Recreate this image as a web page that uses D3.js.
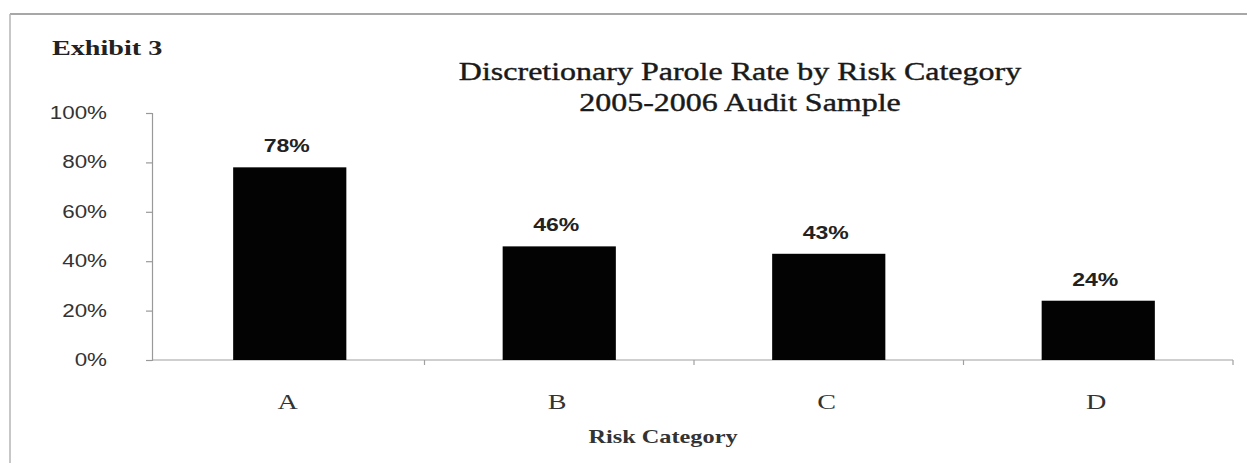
<!DOCTYPE html>
<html>
<head>
<meta charset="utf-8">
<script src="https://cdn.jsdelivr.net/npm/d3@7"></script>
<style>
  body { margin: 0; background: #fff; }
  svg { display: block; }
</style>
</head>
<body>
<div id="chart"></div>
<script>
// chart data
const categories = ["A", "B", "C", "D"];
const rates = [78, 46, 43, 24];
const yTicks = [0, 20, 40, 60, 80, 100];

const W = 1247, H = 463;
const plotLeft = 152, plotRight = 1233, plotTop = 113, plotBottom = 360;
const sx = 1.28; // the scan is stretched sideways, text too

const serif = "Liberation Serif, Times New Roman, serif";
const sans = "Liberation Sans, Arial, sans-serif";

const svg = d3.select("#chart")
    .append("svg")
    .attr("width", W)
    .attr("height", H);

// text helper, stretched horizontally like the scan
function addText(px, py, str, anchor, font, size, weight, fill) {
    return svg.append("text")
        .attr("transform", "translate(" + px + "," + py + ") scale(" + sx + ",1)")
        .attr("text-anchor", anchor)
        .style("font-family", font)
        .style("font-size", size + "px")
        .style("font-weight", weight)
        .attr("fill", fill)
        .text(str);
}

// scanned page frame
svg.append("line")
    .attr("x1", 10).attr("x2", W)
    .attr("y1", 14).attr("y2", 14)
    .attr("stroke", "#8a8a8a").attr("stroke-width", 1.5);
svg.append("line")
    .attr("x1", 10).attr("x2", 10)
    .attr("y1", 14).attr("y2", H)
    .attr("stroke", "#b5b5b5").attr("stroke-width", 1.5);

const x = d3.scaleBand()
    .domain(categories)
    .range([plotLeft + 3, plotRight])
    .paddingInner(0.58)
    .paddingOuter(0.29);

const y = d3.scaleLinear()
    .domain([0, 100])
    .range([plotBottom, plotTop]);

// y axis
const yAxis = svg.append("g")
    .attr("transform", "translate(" + plotLeft + ",0)")
    .call(d3.axisLeft(y).tickValues(yTicks).tickSize(6).tickPadding(0).tickFormat(d => ""));
yAxis.select(".domain").attr("stroke", "#999").attr("stroke-width", 1.2);
yAxis.selectAll(".tick line").attr("stroke", "#999").attr("stroke-width", 1.2);

yTicks.forEach(function(d) {
    addText(107, y(d) + 6, d + "%", "end", sans, 17.5, "normal", "#333");
});

// x axis line with tick marks between categories
svg.append("line")
    .attr("x1", plotLeft).attr("x2", plotRight)
    .attr("y1", plotBottom).attr("y2", plotBottom)
    .attr("stroke", "#a0a0a0").attr("stroke-width", 1.2);

const gap = (x.step() - x.bandwidth()) / 2;
svg.selectAll("line.xtick")
    .data(categories.slice(1).concat(["end"]))
    .enter()
    .append("line")
    .attr("x1", (d, i) => i < 3 ? x(d) - gap : plotRight)
    .attr("x2", (d, i) => i < 3 ? x(d) - gap : plotRight)
    .attr("y1", plotBottom)
    .attr("y2", plotBottom + 5)
    .attr("stroke", "#a0a0a0").attr("stroke-width", 1.2)
    .classed("xtick", true);

// bars
svg.selectAll("rect.bar")
    .data(rates)
    .enter()
    .append("rect")
    .attr("x", (d, i) => x(categories[i]))
    .attr("y", d => y(d))
    .attr("width", x.bandwidth())
    .attr("height", d => plotBottom - y(d))
    .attr("fill", "#030303")
    .classed("bar", true);

// value labels
rates.forEach(function(d, i) {
    addText(x(categories[i]) + x.bandwidth() / 2 - 3, y(d) - 15, d + "%", "middle", sans, 18, "bold", "#222");
});

// category labels
categories.forEach(function(d) {
    addText(x(d) + x.bandwidth() / 2 - 2, 409, d, "middle", serif, 22, "normal", "#333");
});

// titles
addText(52, 55, "Exhibit 3", "start", serif, 22, "bold", "#222");

addText(740, 80, "Discretionary Parole Rate by Risk Category", "middle", serif, 25, "normal", "#1a1a1a")
    .attr("stroke", "#1a1a1a").attr("stroke-width", 0.4);
addText(740, 111, "2005-2006 Audit Sample", "middle", serif, 25, "normal", "#1a1a1a")
    .attr("stroke", "#1a1a1a").attr("stroke-width", 0.4);

addText(663, 443, "Risk Category", "middle", serif, 19, "bold", "#333");
</script>
</body>
</html>
